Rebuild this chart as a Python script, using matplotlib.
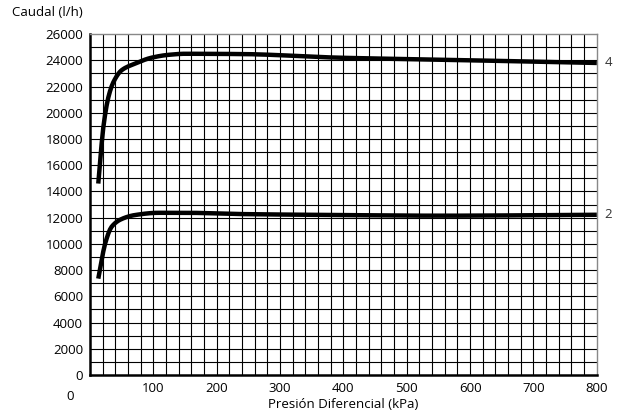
import numpy as np
import matplotlib.pyplot as plt

# caudal vs presión diferencial, tamaños 2 y 4
presion_4 = [13, 21, 29, 37, 50, 71, 97, 124, 150, 237, 394, 552, 800]
caudal_4 = [14600, 18900, 21200, 22350, 23250, 23750, 24200, 24420, 24500, 24480, 24200, 24050, 23800]

presion_2 = [13, 24, 34, 50, 71, 108, 150, 244, 394, 552, 800]
caudal_2 = [7350, 10050, 11300, 11900, 12200, 12370, 12370, 12270, 12200, 12150, 12220]

curve_labels = ['4', '2']
xticks = [100, 200, 300, 400, 500, 600, 700, 800]
yticks = list(range(0, 26001, 2000))


def smooth(x, y, n=300):
    # monotone cubic (Fritsch-Carlson) through the read points
    x = np.asarray(x, float)
    y = np.asarray(y, float)
    h = np.diff(x)
    d = np.diff(y) / h
    m = np.zeros_like(x)
    m[0], m[-1] = d[0], d[-1]
    for i in range(1, len(x) - 1):
        if d[i - 1] * d[i] <= 0:
            m[i] = 0
        else:
            w1 = 2 * h[i] + h[i - 1]
            w2 = h[i] + 2 * h[i - 1]
            m[i] = (w1 + w2) / (w1 / d[i - 1] + w2 / d[i])
    xs = np.linspace(x[0], x[-1], n)
    idx = np.clip(np.searchsorted(x, xs) - 1, 0, len(x) - 2)
    t = (xs - x[idx]) / h[idx]
    h00 = 2 * t**3 - 3 * t**2 + 1
    h10 = t**3 - 2 * t**2 + t
    h01 = -2 * t**3 + 3 * t**2
    h11 = t**3 - t**2
    ys = h00 * y[idx] + h10 * h[idx] * m[idx] + h01 * y[idx + 1] + h11 * h[idx] * m[idx + 1]
    return xs, ys


plt.rcParams['font.family'] = ['Open Sans', 'DejaVu Sans']
plt.rcParams['font.size'] = 9.5

fig = plt.figure(figsize=(6.21, 4.16), dpi=100)
ax = fig.add_axes([0.145, 0.0986, 0.816, 0.8194])

ax.set_xlim(0, 800)
ax.set_ylim(0, 26000)

# grid: every 20 kPa and every 1000 l/h
for gx in np.arange(20, 800, 20):
    ax.axvline(gx, color='black', lw=0.8, zorder=1)
for gy in np.arange(1000, 26000, 1000):
    ax.axhline(gy, color='black', lw=0.8, zorder=1)

for px, cy in [(presion_4, caudal_4), (presion_2, caudal_2)]:
    xs, ys = smooth(px, cy)
    ax.plot(xs, ys, color='black', lw=3.2, solid_capstyle='butt', zorder=3)

ax.text(812, caudal_4[-1], curve_labels[0], ha='left', va='center', color='#333333')
ax.text(812, caudal_2[-1], curve_labels[1], ha='left', va='center', color='#333333')

ax.set_xticks(xticks)
ax.set_yticks(yticks)
ax.tick_params(length=0, pad=5, labelcolor='black')
ax.tick_params(axis='y', pad=5)

for side in ['left', 'bottom']:
    ax.spines[side].set_linewidth(1.8)
    ax.spines[side].set_color('black')
for side in ['top', 'right']:
    ax.spines[side].set_linewidth(1.0)
    ax.spines[side].set_color('#888888')

ax.set_xlabel('Presión Diferencial (kPa)', labelpad=2)
fig.text(70 / 621, 1 - 397 / 416, '0', ha='center', va='center')
fig.text(12 / 621, 1 - 13 / 416, 'Caudal (l/h)', ha='left', va='center')

fig.savefig('out.png', dpi=100)
